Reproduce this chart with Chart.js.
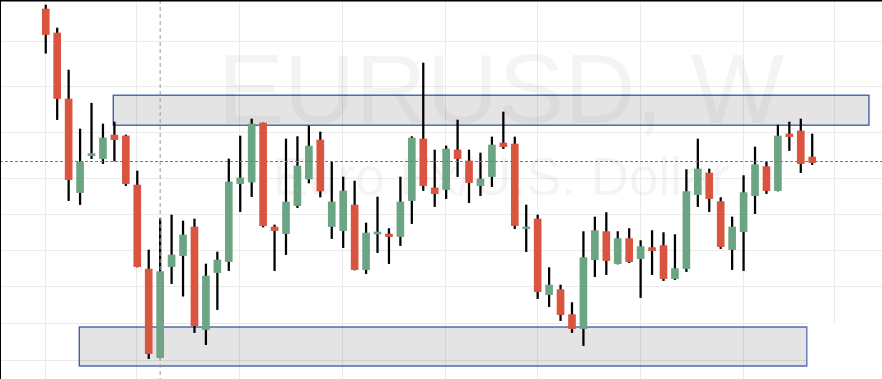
<!DOCTYPE html>
<html><head><meta charset="utf-8">
<script src="https://cdn.jsdelivr.net/npm/chart.js@4.4.1/dist/chart.umd.min.js"></script>
<style>html,body{margin:0;padding:0;background:#fff;overflow:hidden}#c{display:block}</style>
</head><body>
<canvas id="c" width="882" height="379"></canvas>
<script>
const symbol = 'EURUSD, W';
const description = 'Euro Fx/U.S. Dollar';

const open = [1.2255,1.2135,1.1805,1.1337,1.1522,1.1507,1.1625,1.1620,1.1375,1.0955,
  1.0512,1.0967,1.1022,1.1165,1.0652,1.0937,1.0992,1.1382,1.1390,1.1685,
  1.1165,1.1132,1.1272,1.1405,1.1600,1.1167,1.1147,1.1275,1.0952,1.1130,
  1.1130,1.1117,1.1297,1.1605,1.1360,1.1352,1.1550,1.1495,1.1372,1.1417,
  1.1585,1.1580,1.1157,1.1205,1.0827,1.0852,1.0727,1.0657,1.1002,1.1142,
  1.0982,1.1107,1.1007,1.1062,1.1072,1.0907,1.0957,1.1327,1.1435,1.1292,
  1.1052,1.1142,1.1322,1.1467,1.1347,1.1630,1.1645,1.1515];
const high = [1.2275,1.2160,1.1950,1.1655,1.1784,1.1680,1.1690,1.1625,1.1445,1.1050,
  1.1207,1.1225,1.1195,1.1205,1.0980,1.1040,1.1505,1.1620,1.1705,1.1685,
  1.1175,1.1605,1.1617,1.1670,1.1640,1.1490,1.1415,1.1395,1.1185,1.1315,
  1.1157,1.1415,1.1617,1.1985,1.1550,1.1570,1.1700,1.1550,1.1535,1.1615,
  1.1740,1.1615,1.1275,1.1225,1.0962,1.0875,1.0787,1.1142,1.1215,1.1237,
  1.1142,1.1157,1.1097,1.1147,1.1137,1.1127,1.1452,1.1605,1.1455,1.1312,
  1.1215,1.1422,1.1565,1.1492,1.1675,1.1690,1.1705,1.1630];
const low = [1.2034,1.1702,1.1297,1.1277,1.1507,1.1482,1.1495,1.1372,1.0965,1.0507,
  1.0510,1.0882,1.0819,1.0637,1.0577,1.0752,1.0947,1.1242,1.1317,1.1165,
  1.0947,1.1027,1.1262,1.1385,1.1315,1.1107,1.1062,1.0950,1.0932,1.1037,
  1.0982,1.1072,1.1182,1.1347,1.1267,1.1307,1.1417,1.1287,1.1322,1.1367,
  1.1557,1.1157,1.1042,1.0807,1.0767,1.0697,1.0637,1.0572,1.0917,1.0927,
  1.0980,1.0987,1.0812,1.0927,1.0897,1.0902,1.0942,1.1267,1.1242,1.1057,
  1.0952,1.0947,1.1232,1.1332,1.1345,1.1547,1.1437,1.1477];
const close = [1.2127,1.1807,1.1402,1.1490,1.1532,1.1610,1.1602,1.1382,1.0967,1.0532,
  1.0942,1.1025,1.1125,1.0672,1.0920,1.1000,1.1390,1.1410,1.1680,1.1172,
  1.1147,1.1290,1.1470,1.1570,1.1345,1.1290,1.1345,1.0952,1.1135,1.1140,
  1.1117,1.1290,1.1610,1.1372,1.1332,1.1555,1.1507,1.1387,1.1405,1.1575,
  1.1567,1.1172,1.1165,1.0842,1.0875,1.0727,1.0657,1.1012,1.1147,1.0997,
  1.1107,1.0992,1.1067,1.1047,1.0907,1.0957,1.1342,1.1455,1.1307,1.1067,
  1.1165,1.1337,1.1477,1.1347,1.1620,1.1617,1.1482,1.1487];

const gridWeeks = [0, 8, 17, 26, 35, 43, 52, 61, 69];
const gridPrices = [1.2089, 1.1864, 1.1634, 1.1404, 1.1224, 1.1044, 1.0864, 1.0680, 1.0494];

const zoneStartWeek = [5.90, 2.93];
const zoneEndWeek = [71.96, 66.54];
const zoneTop = [1.1824, 1.0665];
const zoneBottom = [1.1674, 1.0470];

const lastPrice = 1.1494;
const crosshairWeek = 10;
const weekRange = [-4, 73.1];
const priceRange = [1.0405, 1.2300];
const maskPrice = 1.0685;

const UP = '#6ba584', DOWN = '#d9553f';

const decor = {
  id: 'decor',
  beforeDatasetsDraw(chart) {
    const ctx = chart.ctx, xs = chart.scales.x, ys = chart.scales.y, a = chart.chartArea;
    ctx.save();
    ctx.strokeStyle = '#ebebeb';
    ctx.lineWidth = 1;
    gridWeeks.forEach(w => {
      const px = Math.round(xs.getPixelForValue(w)) - 0.5;
      ctx.beginPath(); ctx.moveTo(px, a.top); ctx.lineTo(px, a.bottom); ctx.stroke();
    });
    gridPrices.forEach(p => {
      const py = Math.round(ys.getPixelForValue(p)) - 0.5;
      ctx.beginPath(); ctx.moveTo(a.left, py); ctx.lineTo(a.right, py); ctx.stroke();
    });
    zoneTop.forEach((t, i) => {
      const x1 = xs.getPixelForValue(zoneStartWeek[i]), x2 = xs.getPixelForValue(zoneEndWeek[i]);
      const y1 = ys.getPixelForValue(t), y2 = ys.getPixelForValue(zoneBottom[i]);
      ctx.fillStyle = 'rgba(0,0,0,0.105)';
      ctx.fillRect(x1, y1, x2 - x1, y2 - y1);
      ctx.strokeStyle = '#3a54a3';
      ctx.lineWidth = 1.3;
      ctx.strokeRect(x1, y1, x2 - x1, y2 - y1);
    });
    ctx.fillStyle = 'rgba(0,0,0,0.045)';
    ctx.textAlign = 'center';
    ctx.textBaseline = 'alphabetic';
    ctx.font = '99px "Liberation Sans", Arial, sans-serif';
    ctx.fillText(symbol, 501, 123);
    ctx.font = '53px "Liberation Sans", Arial, sans-serif';
    ctx.fillText(description, 501, 195);
    ctx.restore();
  },
  afterDatasetsDraw(chart) {
    const ctx = chart.ctx, xs = chart.scales.x, ys = chart.scales.y, a = chart.chartArea;
    ctx.save();
    const cx = xs.getPixelForValue(crosshairWeek);
    ctx.strokeStyle = '#9a9a9a'; ctx.lineWidth = 1; ctx.setLineDash([4, 3]);
    ctx.beginPath(); ctx.moveTo(cx, a.top); ctx.lineTo(cx, a.bottom); ctx.stroke();
    const py = Math.round(ys.getPixelForValue(lastPrice)) + 0.5;
    ctx.strokeStyle = DOWN; ctx.setLineDash([3, 2]);
    ctx.beginPath(); ctx.moveTo(a.left, py); ctx.lineTo(a.right, py); ctx.stroke();
    ctx.setLineDash([]);
    const mx = xs.getPixelForValue(zoneEndWeek[1]) + 0.7, my = ys.getPixelForValue(maskPrice);
    ctx.fillStyle = '#ffffff';
    ctx.fillRect(mx, my, a.right - mx, a.bottom - my);
    ctx.fillStyle = '#000000';
    ctx.fillRect(0, 0, a.right, 1.5);
    ctx.fillRect(0, 0, 1, a.bottom);
    ctx.restore();
  }
};

new Chart(document.getElementById('c'), {
  type: 'bar',
  data: {
    datasets: [
      {
        label: 'wick',
        data: high.map((h, i) => ({ x: i, y: [low[i], h] })),
        backgroundColor: '#000000',
        barThickness: 1.6,
        grouped: false,
        order: 2
      },
      {
        label: 'body',
        data: open.map((o, i) => ({ x: i, y: [o, close[i]] })),
        backgroundColor: open.map((o, i) => close[i] >= o ? UP : DOWN),
        barThickness: 7,
        grouped: false,
        order: 1
      }
    ]
  },
  options: {
    responsive: false,
    animation: false,
    devicePixelRatio: 1,
    events: [],
    layout: { padding: 0 },
    plugins: { legend: { display: false }, tooltip: { enabled: false } },
    scales: {
      x: { type: 'linear', offset: false, min: weekRange[0], max: weekRange[1], display: false },
      y: { type: 'linear', min: priceRange[0], max: priceRange[1], display: false }
    }
  },
  plugins: [decor]
});
</script>
</body></html>
